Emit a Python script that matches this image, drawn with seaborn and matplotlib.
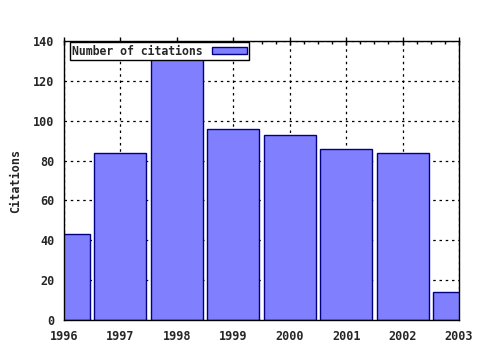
import matplotlib
matplotlib.use("Agg")
import matplotlib.pyplot as plt
import seaborn as sns
import pandas as pd
from matplotlib.ticker import MultipleLocator

years = [1996, 1997, 1998, 1999, 2000, 2001, 2002, 2003]
citations = [43, 84, 133, 96, 93, 86, 84, 14]
series_label = "Number of citations"
y_label = "Citations"

sns.set_style("white")
plt.rcParams['font.family'] = ['DejaVu Sans Mono']
plt.rcParams['font.weight'] = 'bold'

df = pd.DataFrame({"year": years, "citations": citations})

fig = plt.figure(figsize=(4.8, 3.5), dpi=100)
ax = fig.add_axes([64/480, 1-320/350, (459-64)/480, (320-41)/350])

sns.barplot(data=df, x="year", y="citations", native_scale=True, width=0.92,
            color="#8080ff", edgecolor="#000080", linewidth=1.0, saturation=1,
            label=series_label, ax=ax, zorder=2)

ax.set_xlim(1996, 2003)
ax.set_ylim(0, 140)
ax.xaxis.set_major_locator(MultipleLocator(1))
ax.xaxis.set_minor_locator(MultipleLocator(0.25))
ax.yaxis.set_major_locator(MultipleLocator(20))
ax.yaxis.set_minor_locator(MultipleLocator(10))
ax.grid(True, which='major', color='black', linestyle=(0, (2, 3)), linewidth=0.9, zorder=0)
ax.set_axisbelow(True)

for s in ax.spines.values():
    s.set_visible(True)
    s.set_color('black')
    s.set_linewidth(1.0)

ax.tick_params(axis='both', which='major', direction='in', length=5, width=1,
               top=True, right=False, labelsize=8.5, color='black', pad=4)
ax.tick_params(axis='both', which='minor', direction='in', length=2.5, width=1,
               top=True, right=False, color='black')
ax.tick_params(axis='x', which='major', direction='inout', length=6)
ax.tick_params(axis='y', which='major', direction='inout', length=6)
ax.set_xticks(years)
ax.set_xticklabels([str(y) for y in years], fontweight='bold')
for t in ax.get_yticklabels():
    t.set_fontweight('bold')
ax.set_xlabel("")
ax.set_ylabel(y_label, fontsize=8.5, fontweight='bold', labelpad=8)

leg = ax.legend(loc='upper left', bbox_to_anchor=(0.015, 0.995), markerfirst=False,
                frameon=True, fancybox=False, edgecolor='black', framealpha=1,
                prop={'size': 8.3, 'weight': 'bold'}, borderpad=0.2,
                handlelength=3.0, handleheight=0.6, handletextpad=0.8, borderaxespad=0)
leg.get_frame().set_linewidth(1.0)

fig.savefig("out.png", dpi=100)
